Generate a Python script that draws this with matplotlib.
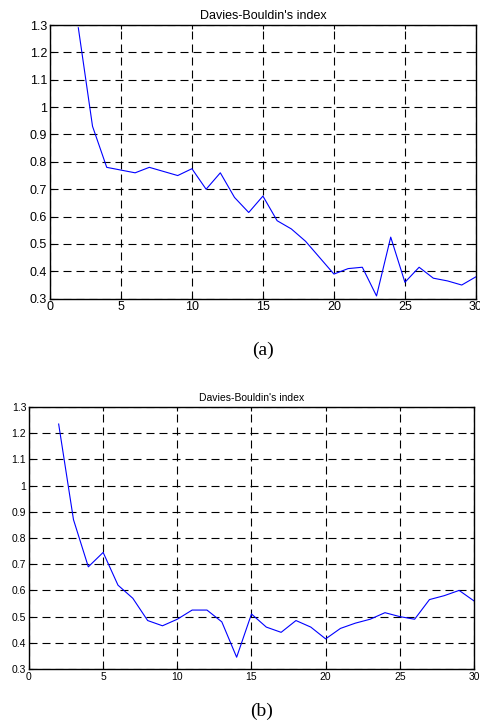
import matplotlib
matplotlib.use('Agg')
import matplotlib.pyplot as plt

k = list(range(2, 31))

# Davies-Bouldin's index, panel (a)
db_a = [1.29, 0.93, 0.78, 0.77, 0.76, 0.78, 0.765, 0.75, 0.775, 0.70,
        0.76, 0.67, 0.615, 0.675, 0.585, 0.555, 0.51, 0.45, 0.39, 0.41,
        0.415, 0.31, 0.525, 0.36, 0.415, 0.375, 0.365, 0.35, 0.38]

# Davies-Bouldin's index, panel (b)
db_b = [1.235, 0.87, 0.69, 0.745, 0.62, 0.57, 0.485, 0.465, 0.49, 0.525,
        0.525, 0.48, 0.345, 0.51, 0.46, 0.44, 0.485, 0.46, 0.415, 0.455,
        0.475, 0.49, 0.515, 0.5, 0.49, 0.565, 0.58, 0.6, 0.56]

xticks = [0, 5, 10, 15, 20, 25, 30]
yticks = [0.3, 0.4, 0.5, 0.6, 0.7, 0.8, 0.9, 1.0, 1.1, 1.2, 1.3]
ylabels = ['0.3', '0.4', '0.5', '0.6', '0.7', '0.8', '0.9', '1', '1.1', '1.2', '1.3']

plt.rcParams['font.family'] = ['Liberation Sans', 'DejaVu Sans']

fig = plt.figure(figsize=(4.8, 7.21), dpi=100)


def panel(rect, y, fs, caption, cap_xy):
    ax = fig.add_axes(rect)
    ax.plot(k, y, color='#0000ff', lw=0.8)
    ax.set_xlim(0, 30)
    ax.set_ylim(0.3, 1.3)
    ax.set_xticks(xticks)
    ax.set_yticks(yticks)
    ax.set_yticklabels(ylabels)
    ax.tick_params(direction='in', length=3, width=0.8, labelsize=fs,
                   top=True, right=True, pad=2)
    ax.grid(True, color='k', linestyle=(0, (7.2, 4.5)), lw=0.8)
    for s in ax.spines.values():
        s.set_linewidth(1.0)
        s.set_color('k')
    ax.set_title("Davies-Bouldin's index", fontsize=fs, pad=4)
    fig.text(cap_xy[0] / 480, 1 - cap_xy[1] / 721, caption, ha='center',
             va='center', fontsize=14, family='Liberation Serif')
    return ax


panel([0.104, 0.5857, 0.8875, 0.3796], db_a, 9, '(a)', (263, 350))
panel([0.0604, 0.0721, 0.927, 0.3634], db_b, 7.5, '(b)', (262, 711))

fig.savefig('out.png', dpi=100)
